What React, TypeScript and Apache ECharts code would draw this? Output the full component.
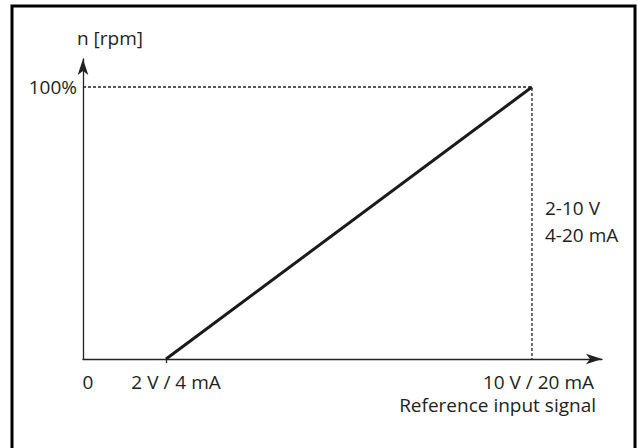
import React, { useEffect, useRef } from "react";
import * as echarts from "echarts";

// Reference input (arbitrary units along the axis) and speed in %
const inputValues = [1.85, 10];
const speedValues = [0, 100];
const guideX = [0, 10, 10];
const guideY = [100, 100, 0];
const xTickValues = [0, 1.85, 10];
const xTickLabels = ["0", "2 V / 4 mA", "10 V / 20 mA"];
const yTickValues = [100];
const yTickLabels = ["100%"];
const xAxisMax = 11.56;
const yAxisMax = 110.3;
const rangeLabels = ["2-10 V", "4-20 mA"];
const xAxisTitle = "Reference input signal";
const yAxisTitle = "n [rpm]";

const FONT = "Open Sans";
const FS = 19;
const TXT = "#231f20";

export default function App() {
  const ref = useRef<HTMLDivElement>(null);
  useEffect(() => {
    if (!ref.current) return;
    const chart = echarts.init(ref.current, null, { renderer: "svg" });
    const lineData = inputValues.map((x, i) => [x, speedValues[i]]);
    const guideData = guideX.map((x, i) => [x, guideY[i]]);
    chart.setOption({
      animation: false,
      backgroundColor: "#ffffff",
      textStyle: { fontFamily: FONT },
      grid: { left: 83, right: 36, top: 59, bottom: 89, containLabel: false },
      xAxis: {
        type: "value",
        min: 0,
        max: xAxisMax,
        splitLine: { show: false },
        axisLine: {
          show: true,
          lineStyle: { color: "#222", width: 1.3 },
          symbol: ["none", "arrow"],
          symbolSize: [8, 16],
        },
        axisTick: {
          show: true,
          customValues: [xTickValues[1]],
          length: 4,
          inside: false,
          lineStyle: { color: "#222", width: 1.3 },
        },
        axisLabel: {
          show: true,
          customValues: xTickValues,
          margin: 13,
          fontSize: FS,
          fontFamily: FONT,
          color: TXT,
          formatter: (v: number) => {
            const i = xTickValues.indexOf(v);
            return i >= 0 ? `{s${i}|${xTickLabels[i]}}` : "";
          },
          rich: {
            s0: { fontSize: FS, fontFamily: FONT, color: TXT, padding: [0, 0, 0, 10] },
            s1: { fontSize: FS, fontFamily: FONT, color: TXT, padding: [0, 0, 0, 20] },
            s2: { fontSize: FS, fontFamily: FONT, color: TXT, padding: [0, 0, 0, 13] },
          },
        },
      },
      yAxis: {
        type: "value",
        min: 0,
        max: yAxisMax,
        splitLine: { show: false },
        name: yAxisTitle,
        nameLocation: "end",
        nameGap: 12,
        nameTextStyle: { fontSize: FS, fontFamily: FONT, color: TXT, align: "left", padding: [0, 0, 0, -6] },
        axisLine: {
          show: true,
          lineStyle: { color: "#222", width: 1.3 },
          symbol: ["none", "arrow"],
          symbolSize: [8, 16],
        },
        axisTick: { show: false },
        axisLabel: {
          show: true,
          customValues: yTickValues,
          margin: 6,
          fontSize: FS,
          fontFamily: FONT,
          color: TXT,
          formatter: (v: number) => {
            const i = yTickValues.indexOf(v);
            return i >= 0 ? yTickLabels[i] : "";
          },
        },
      },
      series: [
        {
          type: "line",
          data: guideData,
          symbol: "none",
          silent: true,
          lineStyle: { color: "#222", width: 1.3, type: [3, 2] },
        },
        {
          type: "line",
          data: lineData,
          symbol: "none",
          lineStyle: { color: "#1a1a1a", width: 3 },
        },
      ],
      graphic: [
        {
          type: "rect",
          shape: { x: 12, y: 6, width: 623, height: 470 },
          style: { fill: "none", stroke: "#000", lineWidth: 3 },
          silent: true,
        },
        {
          type: "text",
          x: 596,
          y: 405,
          style: { text: xAxisTitle, fontSize: FS, fontFamily: FONT, fill: TXT, align: "right", verticalAlign: "middle" },
        },
        {
          type: "text",
          x: 545,
          y: 208,
          style: { text: rangeLabels[0], fontSize: FS, fontFamily: FONT, fill: TXT, align: "left", verticalAlign: "middle" },
        },
        {
          type: "text",
          x: 545,
          y: 235,
          style: { text: rangeLabels[1], fontSize: FS, fontFamily: FONT, fill: TXT, align: "left", verticalAlign: "middle" },
        },
      ],
    });
    return () => chart.dispose();
  }, []);
  return (
    <div style={{ position: "absolute", left: 0, top: 0, width: 638, height: 448 }}>
      <div ref={ref} style={{ width: 638, height: 448 }} />
    </div>
  );
}
